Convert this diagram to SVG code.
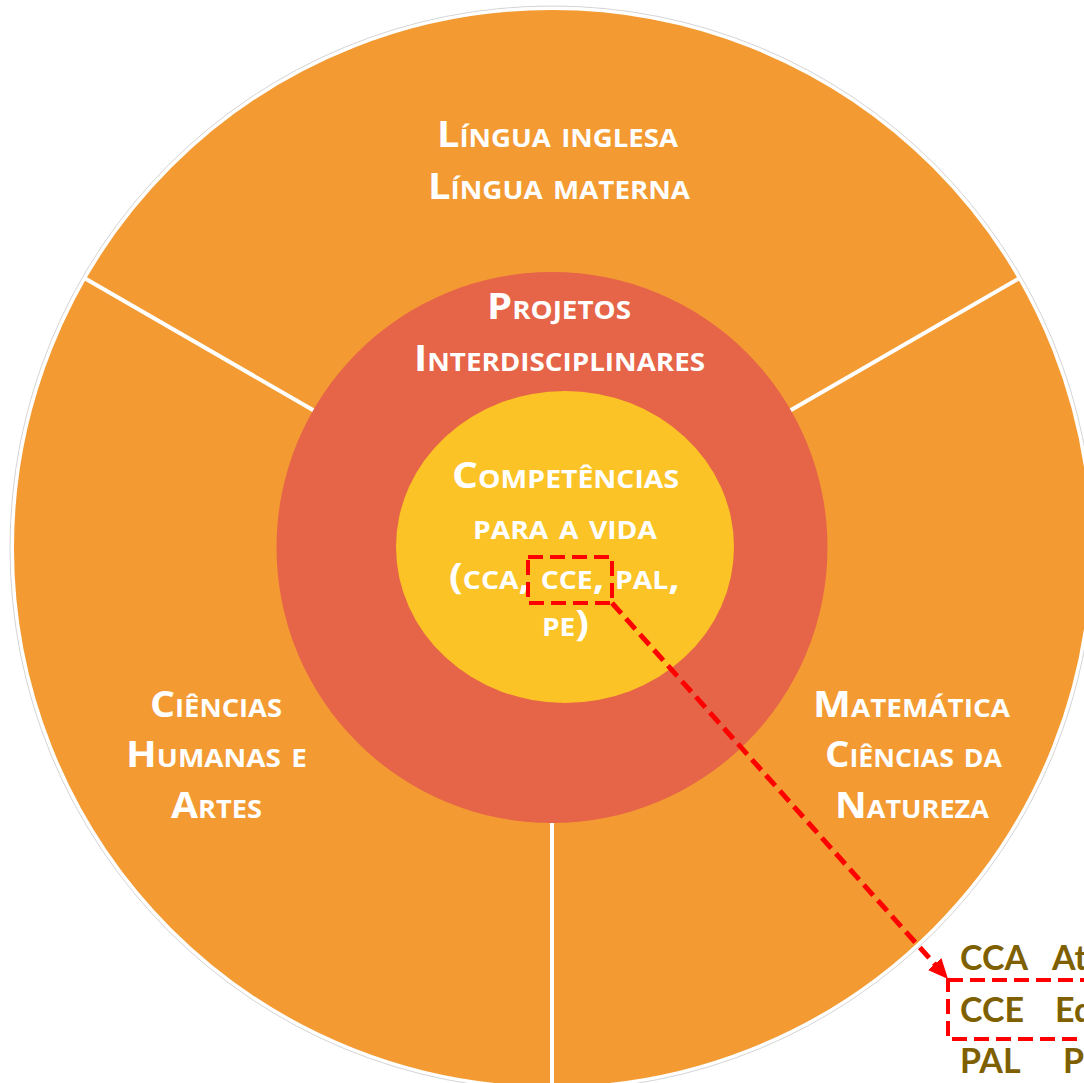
<svg xmlns="http://www.w3.org/2000/svg" width="1084" height="1083" viewBox="0 0 1084 1083">
<defs>
<style>
.lbl{font-family:"Open Sans","Liberation Sans",sans-serif;font-weight:bold;font-size:36px;font-variant:small-caps;fill:#FFFFFF;text-anchor:middle}
.key{font-family:Lato,"Liberation Sans",sans-serif;font-weight:bold;font-size:34px;fill:#7F6000}
.div{stroke:#FFFFFF;stroke-width:4}
.dash{fill:none;stroke:#FF0000;stroke-width:4;stroke-dasharray:15 7}
.conn{fill:none;stroke:#FF0000;stroke-width:5;stroke-dasharray:14 7}
</style>
<marker id="arr" markerUnits="userSpaceOnUse" markerWidth="22" markerHeight="20" refX="20" refY="9" orient="auto">
<path d="M0,0 L20,9 L0,18 Z" fill="#FF0000"/>
</marker>
</defs>
<rect width="1084" height="1083" fill="#FFFFFF"/>
<g id="outer">
<circle cx="552" cy="548" r="542" fill="none" stroke="#D4D4D4" stroke-width="1"/>
<circle cx="552" cy="548" r="539.5" fill="#F39A32" stroke="#FFFFFF" stroke-width="3"/>
<line class="div" x1="313.8" y1="410.5" x2="84.3" y2="278"/>
<line class="div" x1="790.2" y1="410.5" x2="1019.7" y2="278"/>
<line class="div" x1="552" y1="823" x2="552" y2="1090"/>
</g>
<g id="node-lingua">
<text class="lbl" x="557.5" y="147" textLength="241" lengthAdjust="spacingAndGlyphs">Língua inglesa</text>
<text class="lbl" x="559" y="199" textLength="262" lengthAdjust="spacingAndGlyphs">Língua materna</text>
</g>
<g id="node-humanas">
<text class="lbl" x="216" y="717" textLength="132" lengthAdjust="spacingAndGlyphs">Ciências</text>
<text class="lbl" x="216.5" y="767" textLength="181" lengthAdjust="spacingAndGlyphs">Humanas e</text>
<text class="lbl" x="216.5" y="818" textLength="91" lengthAdjust="spacingAndGlyphs">Artes</text>
</g>
<g id="node-matematica">
<text class="lbl" x="911.5" y="717" textLength="197" lengthAdjust="spacingAndGlyphs">Matemática</text>
<text class="lbl" x="913.5" y="767" textLength="177" lengthAdjust="spacingAndGlyphs">Ciências da</text>
<text class="lbl" x="912" y="818" textLength="154" lengthAdjust="spacingAndGlyphs">Natureza</text>
</g>
<g id="node-projetos">
<circle cx="552" cy="547.5" r="275.5" fill="#E66448"/>
<text class="lbl" x="559" y="319" textLength="144" lengthAdjust="spacingAndGlyphs">Projetos</text>
<text class="lbl" x="559.5" y="371" textLength="291" lengthAdjust="spacingAndGlyphs">Interdisciplinares</text>
</g>
<g id="node-competencias">
<ellipse cx="565" cy="547" rx="169" ry="156" fill="#FBC326"/>
<text class="lbl" x="565.5" y="488" textLength="227" lengthAdjust="spacingAndGlyphs">Competências</text>
<text class="lbl" x="565" y="539" textLength="184" lengthAdjust="spacingAndGlyphs">para a vida</text>
<text class="lbl" x="564.5" y="589" textLength="231" lengthAdjust="spacingAndGlyphs">(cca, cce, pal,</text>
<text class="lbl" x="565.5" y="636" textLength="47" lengthAdjust="spacingAndGlyphs">pe)</text>
<rect class="dash" x="528" y="557" width="84" height="46"/>
</g>
<g id="node-legend">
<text class="key" x="960" y="970">CCA</text>
<text class="key" x="1052" y="970">At</text>
<text class="key" x="960" y="1022">CCE</text>
<text class="key" x="1055" y="1022">Ed</text>
<text class="key" x="960" y="1073">PAL</text>
<text class="key" x="1063" y="1073">P</text>
<rect class="dash" x="948" y="980" width="200" height="59"/>
</g>
<g id="connectors">
<line class="conn" x1="612" y1="603" x2="948" y2="979" marker-end="url(#arr)"/>
</g>
</svg>
